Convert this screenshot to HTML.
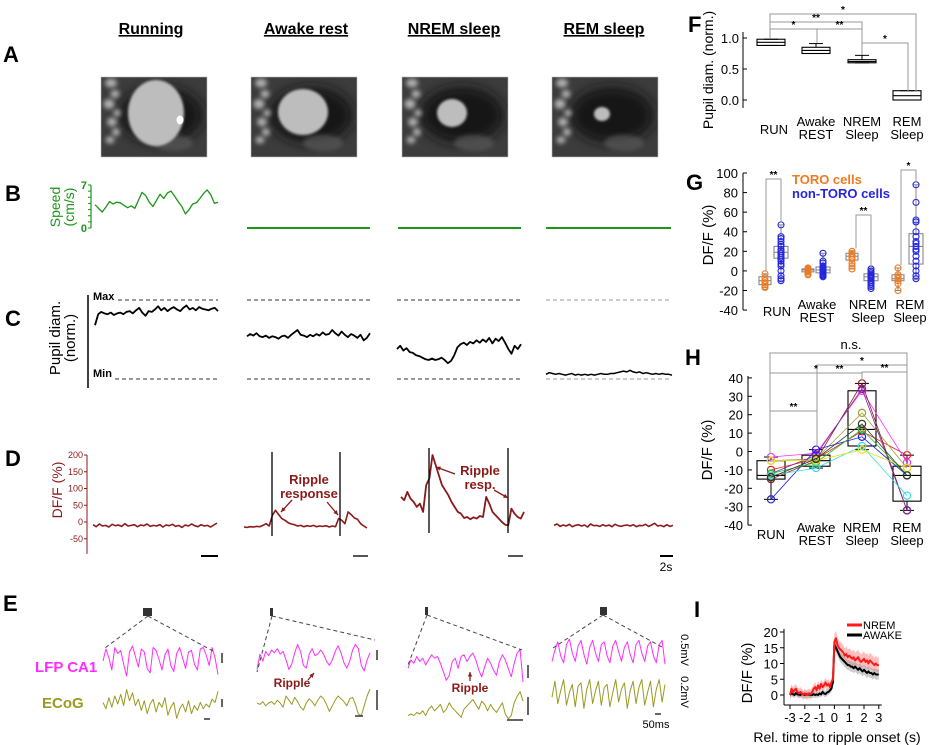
<!DOCTYPE html>
<html><head><meta charset="utf-8">
<style>
html,body{margin:0;padding:0;background:#fff;}
svg{display:block;font-family:"Liberation Sans",Arial,sans-serif;}
</style></head>
<body>
<svg id="fig" width="929" height="745" viewBox="0 0 929 745" xmlns="http://www.w3.org/2000/svg">
<defs>
  <filter id="blur2" x="-100%" y="-100%" width="300%" height="300%"><feGaussianBlur stdDeviation="2"/></filter>
  <filter id="blur1" x="-100%" y="-100%" width="300%" height="300%"><feGaussianBlur stdDeviation="1.2"/></filter>
  <filter id="blurS" x="-200%" y="-200%" width="500%" height="500%"><feGaussianBlur stdDeviation="2.5"/></filter>
  <filter id="blur4" x="-50%" y="-50%" width="200%" height="200%"><feGaussianBlur stdDeviation="6"/></filter>
  <clipPath id="c0"><rect x="101" y="77" width="106" height="80"/></clipPath>
  <clipPath id="c1"><rect x="251" y="77" width="106" height="80"/></clipPath>
  <clipPath id="c2"><rect x="402" y="77" width="106" height="80"/></clipPath>
  <clipPath id="c3"><rect x="552" y="77" width="106" height="80"/></clipPath>
</defs>
<g id="root"></g>
</svg>
<script>
// ---------------- DATA ----------------
const states = ["Running","Awake rest","NREM sleep","REM sleep"];
const speedRun = [3.8,3.2,2.6,3.4,4.3,3.9,4.2,4.1,3.7,3.3,3.6,3.2,4.5,5.8,5.3,4.2,3.5,4.5,5.5,4.8,5.7,6.0,5.2,4.3,3.5,2.3,3.0,3.9,4.1,4.8,5.6,6.2,5.4,4.0,4.2];
const speedRest = [0,0];
const pupilRun = [0.68,0.82,0.85,0.83,0.82,0.84,0.81,0.83,0.84,0.82,0.85,0.86,0.83,0.87,0.9,0.84,0.8,0.86,0.85,0.88,0.92,0.87,0.9,0.86,0.89,0.91,0.88,0.86,0.9,0.93,0.88,0.9,0.87,0.91,0.89,0.88,0.87,0.89,0.9,0.86];
const pupilAwake = [0.54,0.57,0.55,0.58,0.54,0.53,0.55,0.52,0.54,0.53,0.51,0.54,0.55,0.52,0.56,0.59,0.62,0.56,0.55,0.53,0.56,0.54,0.57,0.55,0.59,0.56,0.57,0.62,0.58,0.55,0.6,0.56,0.53,0.57,0.55,0.52,0.56,0.49,0.52,0.58];
const pupilNrem = [0.38,0.42,0.36,0.39,0.34,0.33,0.3,0.29,0.27,0.25,0.24,0.26,0.24,0.25,0.27,0.24,0.2,0.23,0.3,0.4,0.44,0.46,0.43,0.47,0.45,0.49,0.46,0.5,0.47,0.52,0.45,0.51,0.48,0.53,0.46,0.38,0.32,0.42,0.38,0.44];
const pupilRem = [0.06,0.08,0.07,0.06,0.07,0.06,0.05,0.06,0.07,0.05,0.06,0.05,0.06,0.05,0.06,0.05,0.06,0.07,0.06,0.06,0.07,0.07,0.08,0.09,0.1,0.09,0.11,0.09,0.08,0.09,0.07,0.08,0.07,0.06,0.07,0.06,0.07,0.06,0.06,0.05];
const dffRun = [-8,-14,-6,-12,-10,-15,-7,-11,-9,-13,-5,-12,-10,-8,-14,-9,-11,-6,-13,-10,-12,-8,-15,-9,-11,-7,-13,-10,-16,-9,-12,-6,-11,-14,-8,-12,-10,-15,-9,-3];
const dffAwake = [-15,-16,-14,-15,-13,-14,-10,-5,-12,20,35,22,10,5,-2,-6,-8,-12,-10,-14,-11,-13,-10,-14,-12,-13,-11,-15,-12,-14,10,5,-5,30,22,12,8,-5,-12,-18];
const dffNrem = [75,65,90,70,60,45,55,30,110,130,200,170,140,110,95,80,60,45,30,25,12,15,8,14,10,18,15,75,55,30,20,10,0,-8,-10,40,25,15,10,30];
const dffRem = [-10,-6,-13,-9,-12,-7,-14,-10,-8,-12,-9,-15,-6,-11,-10,-13,-8,-12,-9,-14,-7,-11,-13,-10,-9,-12,-8,-14,-10,-11,-7,-13,-9,-4,-12,-10,-14,-8,-13,-10];
const lfpRun = [0,0.8,0.2,-0.6,0.9,0.5,0.7,-0.2,-1,0.6,1,0.3,-0.4,0.8,0.6,-0.5,-0.8,0.9,0.7,0.1,-0.6,0.4,0.8,-0.3,-0.7,0.5,0.9,0.2,-0.5,0.6,0.7,-0.2,-0.6,0.8,0.9,0.4,-0.3,0.9,0.2,-0.9];
const ecogRun = [0.1,-0.3,0.4,-0.2,0.5,0,0.6,-0.1,0.9,0.2,0.7,-0.1,0.3,-0.4,0.2,-0.6,0,0.3,-0.5,0.1,-0.2,0.4,-0.7,-0.2,0.1,-0.9,-0.3,0,-0.5,0.2,-0.6,-0.1,-0.4,0.1,-0.3,0,-0.2,0.3,0.1,0.8];
const lfpAwake = [-0.9,0.2,-0.3,0.4,0.1,0.5,0.3,0.6,0.2,0.4,-0.2,-0.9,-0.5,0.3,0.9,0.4,-0.6,-0.8,0.2,0.6,0.1,0.2,0.5,0.2,-0.3,-0.6,-0.2,0.4,0.8,0.3,-0.4,-0.8,-0.3,0.5,0.9,0.6,-0.6,-1,-0.2,0.3];
const ecogAwake = [0,-0.1,0.1,-0.2,0,0.1,-0.1,0.2,0,-0.3,0.5,0.2,-0.1,0.4,0.1,-0.3,-0.5,0,0.3,0.1,-0.2,0.2,0.5,0.3,-0.1,-0.6,-0.2,0.2,0.5,0.3,0.1,-0.2,0.3,0.4,-0.1,-0.8,-0.9,-0.2,0.5,1];
const lfpNrem = [-0.2,0.3,0.1,0.5,0.2,0.4,0,0.3,0.6,0.4,0.5,0.1,-0.4,-0.9,-0.6,0.2,0.4,-0.2,0.5,0.6,0.2,0.5,0.7,0.3,-0.3,-0.7,-0.1,0.4,0.1,-0.3,-0.6,0.2,0.6,0.3,-0.2,-0.7,0.1,0.7,0.9,-1];
const ecogNrem = [-0.6,-0.5,-0.6,-0.4,-0.5,-0.3,-0.6,-0.2,0,-0.3,-0.1,0.1,-0.4,-0.2,0.2,-0.1,-0.3,-0.5,-0.7,-0.2,0,0.2,0.4,0.1,-0.2,0.3,0.1,-0.3,0.1,-0.2,-0.4,-0.1,0.2,-0.5,-0.8,-0.6,0.2,0.6,0.9,0.3];
const lfpRem = [-0.6,0.2,0.8,-0.2,-0.7,0.6,1,0,-0.6,0.5,0.9,-0.1,-0.8,0.4,0.9,0,-0.6,0.6,0.8,-0.2,-0.7,0.5,0.9,0.1,-0.6,0.4,0.8,-0.1,-0.7,0.6,0.9,0,-0.6,0.5,0.8,-0.2,-0.7,0.6,0.9,-0.8];
const ecogRem = [-0.2,0.8,-0.6,0.2,0.9,-0.7,0.1,0.6,-0.8,0.5,0.7,-0.9,0.3,0.9,-0.6,0.2,0.8,-0.7,0.4,0.6,-0.8,0.1,0.9,-0.5,0.3,0.7,-0.9,0.2,0.8,-0.6,0.4,0.9,-0.7,0.1,0.8,-0.8,0.3,0.9,-0.5,0.6];

const catLabels = [["RUN"],["Awake","REST"],["NREM","Sleep"],["REM","Sleep"]];
const fTicks = [0.0,0.5,1.0];
const fBoxes = [[0.88,0.93,0.98,0.88,0.98],[0.75,0.80,0.85,0.75,0.91],[0.60,0.62,0.65,0.60,0.72],[0.0,0.07,0.15,0.0,0.15]];
const gTicks = [-40,-20,0,20,40,60,80,100];
const gBoxesToro = [[-14,-10,-6,-17,-3],[-1,1,2,-4,3],[11,15,18,2,20],[-10,-8,-4,-20,3]];
const gBoxesNon = [[13,19,25,-10,47],[-2,1,4,-6,18],[-10,-6,-3,-18,2],[7,25,38,-9,88]];
const gDotsToro = [[-3,-7,-10,-12,-14,-16,-17],[3,2,1,0,-1,-3,-4],[20,18,16,14,12,8,5,2],[3,-4,-6,-8,-10,-13,-20]];
const gDotsNon = [[47,35,33,30,27,25,22,20,18,16,14,12,10,7,5,0,-5,-8,-10],[18,10,8,5,4,3,2,1,0,-1,-2,-3,-4,-5,-6],[2,0,-2,-4,-5,-6,-7,-8,-10,-12,-14,-16,-18],[88,70,52,50,40,35,30,28,25,22,20,15,10,5,0,-5,-8]];
const hTicks = [-40,-30,-20,-10,0,10,20,30,40];
const hBoxes = [[-15,-13,-5,-26,-3],[-8,-5,-2,-9,1],[3,12,33,1,37],[-27,-13,-8,-32,-2]];
const hCellColors = ["#e02020","#ff30ff","#a0a030","#8b1a1a","#7a2a9a","#2020e0","#20c020","#30e0e0","#e8e020","#303030"];
const hCellValues = [[-10,-4,11,-2],[-3,-1,33,-6],[-5,-4,21,-9],[-15,-5,37,-32],[-12,-2,34,-32],[-26,1,8,-13],[-12,-6,12,-13],[-13,-9,3,-24],[-5,-5,1,-9],[-14,-4,15,-13]];
const iTicksX = [-3,-2,-1,0,1,2,3];
const iTicksY = [0,5,10,15,20];
const iNrem = [0,2,1,1.5,2,1,0.5,1,0.5,0,0.5,0,0.3,0.5,0.2,1,2,2.5,1.5,3,2,3.5,2.5,3,4,3,3.5,2.5,4,5,17,18,16,15,14.5,14,13.5,12.5,13,12,12.5,12,11.5,12,11,11.5,12,11,10.5,11,11.5,10.5,11,10,11,10.5,10,9.5,10,9.5,9.5];
const iAwake = [0,0.5,0.3,0,0.6,0.2,0.1,0,0.4,0.2,0,0.3,0.1,0.2,0,0,0.3,0,0.2,0,0.5,0.2,1,0.5,0.3,0.8,1,1.5,2,4,16,15,14,13,12,11.5,11,10.5,10,9.5,9.5,9,9,8.5,9,8.5,8,8.5,8,7.5,8,7.5,7,7.5,7,7,6.5,7,6.5,6.5,6.5];

// ---------------- HELPERS ----------------
const NS="http://www.w3.org/2000/svg";
const root=document.getElementById('root');
function mk(tag,attrs,parent){const e=document.createElementNS(NS,tag);for(const k in attrs)e.setAttribute(k,attrs[k]);(parent||root).appendChild(e);return e;}
function txt(x,y,s,attrs,parent){const e=mk('text',Object.assign({x:x,y:y},attrs||{}),parent);e.textContent=s;return e;}
function grp(name,parent){const g=mk('g',{},parent);return g;}
function trace(vals,x0,x1,yf,stroke,w,parent,name){
  const n=vals.length;const pts=vals.map((v,i)=>(x0+(x1-x0)*i/(n-1)).toFixed(1)+","+yf(v).toFixed(1)).join(" ");
  const p=mk('polyline',{points:pts,fill:'none',stroke:stroke,'stroke-width':w,'stroke-linejoin':'round'},parent);
  
  
  return p;
}
function label(x,y,s,name){const t=txt(x,y,s,{'font-size':22,'font-weight':'bold'});return t;}

// ---------------- PANEL A ----------------
label(3,62,"A","panel-label-a");
const titleX=[151,306,454,604];
const imgX=[101,251,402,552];
const pupil=[[55,36,28,33],[52,35,25,23],[50,36,15,14],[50,37,8,7]];
const gA=grp('panel-a');
states.forEach((s,i)=>{
  const t=txt(titleX[i],34,s,{'font-size':16,'font-weight':'bold','text-anchor':'middle','text-decoration':'underline'},gA);
  
  
  const g=grp('eye-image-'+i,gA);
  const x=imgX[i],y=77,w=106,h=80;
  mk('rect',{x:x,y:y,width:w,height:h,fill:'#3c3c3c'},g);
  const cg=mk('g',{'clip-path':'url(#c'+i+')'},g);
  mk('ellipse',{cx:x+60,cy:y+38,rx:42,ry:28,fill:'#121212',filter:'url(#blur4)'},cg);
  const streaks=[[6,3,10,7],[10,14,7,6],[4,24,9,8],[12,33,6,5],[7,42,8,7],[11,52,6,6],[5,60,7,5]];
  streaks.forEach(sr=>mk('ellipse',{cx:x+sr[0]+4,cy:y+sr[1]+3,rx:sr[2]/2+1,ry:sr[3]/2+1,fill:'#d8d8d8',opacity:0.75,filter:'url(#blurS)'},cg));
  mk('ellipse',{cx:x+72,cy:y+66,rx:20,ry:8,fill:'#5a5a5a',opacity:0.7,filter:'url(#blur2)'},cg);
  mk('ellipse',{cx:x+pupil[i][0],cy:y+pupil[i][1],rx:pupil[i][2],ry:pupil[i][3],fill:'#bdbdbd',filter:'url(#blur1)'},cg);
  if(i===0) mk('ellipse',{cx:x+79,cy:y+43,rx:3.5,ry:4.5,fill:'#fff'},cg);
  mk('rect',{x:x,y:y,width:w,height:h,fill:'none',stroke:'#bbb','stroke-width':0.6},g);
});

// ---------------- PANEL B ----------------
label(5,201,"B","panel-label-b");
const green="#1a961a";
const gB=grp('panel-b');
const ySp=v=>228-v*43/7;
mk('line',{x1:91,y1:ySp(0),x2:91,y2:ySp(7),stroke:green,'stroke-width':1.2},gB);
for(let v=0;v<=7;v++) mk('line',{x1:88,y1:ySp(v),x2:91,y2:ySp(v),stroke:green,'stroke-width':1},gB);
txt(87,ySp(0)+4,"0",{'font-size':11,fill:green,'text-anchor':'end','font-weight':'bold'},gB);
txt(87,ySp(7)+4,"7",{'font-size':11,fill:green,'text-anchor':'end','font-weight':'bold'},gB);
const sl=txt(0,0,"Speed",{'font-size':14,fill:green,'text-anchor':'middle',transform:'translate(60,207) rotate(-90)'},gB);


txt(0,0,"(cm/s)",{'font-size':14,fill:green,'text-anchor':'middle',transform:'translate(74,207) rotate(-90)'},gB);
trace(speedRun,95,218,ySp,green,1.3,gB,'speed-trace-running');
[[247,370],[398,521],[546,671]].forEach((r,i)=>trace(speedRest,r[0],r[1],ySp,green,2,gB,'speed-trace-rest-'+i));

// ---------------- PANEL C ----------------
label(5,326,"C","panel-label-c");
const gC=grp('panel-c');
const yP=v=>379-v*79;
mk('line',{x1:88,y1:295,x2:88,y2:388,stroke:'#000','stroke-width':1.5},gC);
txt(93,300,"Max",{'font-size':11,'font-weight':'bold'},gC);
txt(93,377,"Min",{'font-size':11,'font-weight':'bold'},gC);
const cRanges=[[93,218],[247,370],[397,521],[546,672]];
cRanges.forEach((r,i)=>{
  const c=i===3?'#999':'#333';
  mk('line',{x1:i===0?118:r[0],y1:yP(1),x2:r[1],y2:yP(1),stroke:c,'stroke-width':1.1,'stroke-dasharray':'4,3'},gC);
  mk('line',{x1:i===0?115:r[0],y1:yP(0),x2:r[1],y2:yP(0),stroke:c,'stroke-width':1.1,'stroke-dasharray':'4,3'},gC);
});
txt(0,0,"Pupil diam.",{'font-size':15,'text-anchor':'middle',transform:'translate(60,338) rotate(-90)'},gC);
txt(0,0,"(norm.)",{'font-size':15,'text-anchor':'middle',transform:'translate(75,338) rotate(-90)'},gC);
trace(pupilRun,95,218,yP,'#000',1.8,gC,'pupil-trace-running');
trace(pupilAwake,247,370,yP,'#000',1.8,gC,'pupil-trace-awake');
trace(pupilNrem,397,521,yP,'#000',1.8,gC,'pupil-trace-nrem');
trace(pupilRem,546,672,yP,'#000',1.5,gC,'pupil-trace-rem');

// ---------------- PANEL D ----------------
label(5,466,"D","panel-label-d");
const dred="#8b1a1a";
const gD=grp('panel-d');
const yD=v=>522-v*0.335;
mk('line',{x1:87,y1:yD(200),x2:87,y2:yD(-95),stroke:dred,'stroke-width':1},gD);
[200,150,100,50,0,-50].forEach(v=>{
  mk('line',{x1:84,y1:yD(v),x2:87,y2:yD(v),stroke:dred,'stroke-width':1},gD);
  txt(83,yD(v)+3,String(v),{'font-size':9,fill:dred,'text-anchor':'end'},gD);
});
txt(0,0,"DF/F (%)",{'font-size':14,fill:dred,'text-anchor':'middle',transform:'translate(62,490) rotate(-90)'},gD);
trace(dffRun,93,217,yD,dred,1.6,gD,'dff-trace-running');
trace(dffAwake,244,367,yD,dred,1.6,gD,'dff-trace-awake');
trace(dffNrem,401,524,yD,dred,1.8,gD,'dff-trace-nrem');
trace(dffRem,554,673,yD,dred,1.6,gD,'dff-trace-rem');
[[272,452,536],[340,452,536],[429,448,533],[508,448,533]].forEach(l=>mk('line',{x1:l[0],y1:l[1],x2:l[0],y2:l[2],stroke:'#000','stroke-width':1.3},gD));
txt(309,484,"Ripple",{'font-size':13,'font-weight':'bold',fill:dred,'text-anchor':'middle'},gD);
txt(309,498,"response",{'font-size':13,'font-weight':'bold',fill:dred,'text-anchor':'middle'},gD);
txt(480,475,"Ripple",{'font-size':13,'font-weight':'bold',fill:dred,'text-anchor':'middle'},gD);
txt(480,489,"resp.",{'font-size':13,'font-weight':'bold',fill:dred,'text-anchor':'middle'},gD);
function arrow(x1,y1,x2,y2,c,p){mk('line',{x1:x1,y1:y1,x2:x2,y2:y2,stroke:c,'stroke-width':1.3},p);const a=Math.atan2(y2-y1,x2-x1);const L=5;
  mk('polygon',{points:`${x2},${y2} ${x2-L*Math.cos(a-0.45)},${y2-L*Math.sin(a-0.45)} ${x2-L*Math.cos(a+0.45)},${y2-L*Math.sin(a+0.45)}`,fill:c},p);}
arrow(292,500,281,512,dred,gD);
arrow(327,502,338,515,dred,gD);
arrow(455,474,436,467,dred,gD);
arrow(494,490,508,498,dred,gD);
[[201,218,'#000'],[353,368,'#555'],[508,523,'#555'],[660,673,'#000']].forEach((b,i)=>mk('line',{x1:b[0],y1:556,x2:b[1],y2:556,stroke:b[2],'stroke-width':2},gD));
txt(666,571,"2s",{'font-size':12,'text-anchor':'middle'},gD);

// ---------------- PANEL E ----------------
label(3,611,"E","panel-label-e");
const gE=grp('panel-e');
const magenta="#ff2cff", olive="#9a9a20";
const eCols=[
 {x0:103,x1:218,lfp:lfpRun,ecog:ecogRun,lc:661,ec:704,la:15,ea:16,m:[143,608,9,8],d:[[148,616,105,648],[148,616,213,651]]},
 {x0:257,x1:370,lfp:lfpAwake,ecog:ecogAwake,lc:657,ec:703,la:14,ea:14,m:[270,608,3,8],d:[[272,616,257,672],[272,616,375,640]]},
 {x0:408,x1:523,lfp:lfpNrem,ecog:ecogNrem,lc:665,ec:706,la:17,ea:16,m:[425,607,3,8],d:[[427,615,408,665],[427,615,522,650]]},
 {x0:552,x1:665,lfp:lfpRem,ecog:ecogRem,lc:653,ec:694,la:14,ea:16,m:[600,607,7,8],d:[[603,615,553,648],[603,615,662,647]]}
];
eCols.forEach((c,i)=>{
  trace(c.lfp,c.x0,c.x1,v=>c.lc-v*c.la,magenta,1,gE,'lfp-trace-'+i);
  trace(c.ecog,c.x0,c.x1,v=>c.ec-v*c.ea,olive,1,gE,'ecog-trace-'+i);
  mk('rect',{x:c.m[0],y:c.m[1],width:c.m[2],height:c.m[3],fill:'#333'},gE);
  c.d.forEach(d=>mk('line',{x1:d[0],y1:d[1],x2:d[2],y2:d[3],stroke:'#444','stroke-width':1,'stroke-dasharray':'4,3'},gE));
});
txt(35,672,"LFP CA1",{'font-size':15,'font-weight':'bold',fill:magenta},gE);
txt(42,708,"ECoG",{'font-size':15,'font-weight':'bold',fill:olive},gE);
[[222,653,663],[222,699,707],[377,650,660],[377,690,710],[528,665,678],[528,697,715]].forEach(b=>mk('line',{x1:b[0],y1:b[1],x2:b[0],y2:b[2],stroke:'#333','stroke-width':1.5},gE));
[[204,210,719],[355,363,716],[507,523,720],[655,661,714]].forEach(b=>mk('line',{x1:b[0],y1:b[2],x2:b[1],y2:b[2],stroke:'#333','stroke-width':1.5},gE));
txt(0,0,"0.5mV",{'font-size':11,'text-anchor':'middle',transform:'translate(681,650) rotate(90)'},gE);
txt(0,0,"0.2mV",{'font-size':11,'text-anchor':'middle',transform:'translate(681,692) rotate(90)'},gE);
txt(656,728,"50ms",{'font-size':11,'text-anchor':'middle'},gE);
txt(470,692,"Ripple",{'font-size':12,'font-weight':'bold',fill:dred,'text-anchor':'middle'},gE);
arrow(470,681,470,672,dred,gE);
txt(292,687,"Ripple",{'font-size':12,'font-weight':'bold',fill:dred,'text-anchor':'middle'},gE);
arrow(308,680,314,673,dred,gE);

// ---------------- PANEL F ----------------
const catX=[771,816,862,907];
label(688,32,"F","panel-label-f");
const gF=grp('panel-f');
const yF=v=>100-62*v;
mk('line',{x1:743,y1:32,x2:743,y2:108,stroke:'#000','stroke-width':1},gF);
fTicks.forEach(v=>{mk('line',{x1:743,y1:yF(v),x2:747,y2:yF(v),stroke:'#000'},gF);txt(739,yF(v)+5,v.toFixed(1),{'font-size':13,'text-anchor':'end'},gF);});
txt(0,0,"Pupil diam. (norm.)",{'font-size':14,'text-anchor':'middle',transform:'translate(713,70) rotate(-90)'},gF);
function box(cx,hw,b,yf,stroke,p,name){
  const g=grp(name,p);
  mk('line',{x1:cx,y1:yf(b[4]),x2:cx,y2:yf(b[2]),stroke:stroke},g);
  mk('line',{x1:cx,y1:yf(b[0]),x2:cx,y2:yf(b[3]),stroke:stroke},g);
  mk('line',{x1:cx-hw/2,y1:yf(b[4]),x2:cx+hw/2,y2:yf(b[4]),stroke:stroke},g);
  mk('line',{x1:cx-hw/2,y1:yf(b[3]),x2:cx+hw/2,y2:yf(b[3]),stroke:stroke},g);
  mk('rect',{x:cx-hw,y:yf(b[2]),width:2*hw,height:Math.max(1,yf(b[0])-yf(b[2])),fill:'none',stroke:stroke,'stroke-width':1.1},g);
  mk('line',{x1:cx-hw,y1:yf(b[1]),x2:cx+hw,y2:yf(b[1]),stroke:stroke,'stroke-width':1.1},g);
  return g;
}
fBoxes.forEach((b,i)=>box(catX[i],14,b,yF,'#000',gF,'f-box-'+i));
function catText(p,ys){catLabels.forEach((l,i)=>l.forEach((s,j)=>txt(catX[i]+(i===0?3:0),ys[l.length-1][j],s,{'font-size':13,'text-anchor':'middle'},p)));}
catText(gF,[[134],[126,139]]);
function bracket(x1,x2,y,yb1,yb2,star,p){
  mk('polyline',{points:`${x1},${yb1} ${x1},${y} ${x2},${y} ${x2},${yb2}`,fill:'none',stroke:'#999','stroke-width':1},p);
  txt((x1+x2)/2,y-1,star,{'font-size':10,'text-anchor':'middle','font-weight':'bold'},p);
}
bracket(770,916,14,38,92,"*",gF);
bracket(770,862,22,38,55,"**",gF);
bracket(770,817,29,38,43,"*",gF);
bracket(817,862,29,43,55,"**",gF);
bracket(862,908,43,55,92,"*",gF);

// ---------------- PANEL G ----------------
label(686,190,"G","panel-label-g");
const gG=grp('panel-g');
const yG=v=>173+(100-v)*0.979;
const gxT=[765,808,852,898], gxN=[781,823,871,916];
const orange="#f07a20", blue="#2525e0";
mk('line',{x1:743,y1:yG(100),x2:743,y2:yG(-40),stroke:'#000'},gG);
gTicks.forEach(v=>{mk('line',{x1:743,y1:yG(v),x2:747,y2:yG(v),stroke:'#000'},gG);txt(738,yG(v)+5,String(v),{'font-size':13,'text-anchor':'end'},gG);});
txt(0,0,"DF/F (%)",{'font-size':15,'text-anchor':'middle',transform:'translate(713,235) rotate(-90)'},gG);
gBoxesToro.forEach((b,i)=>box(gxT[i],6,b,yG,'#888',gG,'g-box-toro-'+i));
gBoxesNon.forEach((b,i)=>box(gxN[i],7,b,yG,'#888',gG,'g-box-nontoro-'+i));
gDotsToro.forEach((arr,i)=>arr.forEach(v=>{const c=mk('circle',{cx:gxT[i],cy:yG(v),r:3,fill:'none',stroke:orange,'stroke-width':1.1},gG);}));
gDotsNon.forEach((arr,i)=>arr.forEach(v=>{const c=mk('circle',{cx:gxN[i],cy:yG(v),r:3,fill:'none',stroke:blue,'stroke-width':1.1},gG);}));
txt(792,184,"TORO cells",{'font-size':13,'font-weight':'bold',fill:orange},gG);
txt(792,198,"non-TORO cells",{'font-size':13,'font-weight':'bold',fill:blue},gG);
bracket(766,781,179,yG(-3)-3,yG(47)-3,"**",gG);
bracket(856,871,215,yG(20)-3,yG(2)-3,"**",gG);
bracket(901,916,170,yG(3)-3,yG(88)-3,"*",gG);
catLabels.forEach((l,i)=>{const xs=[777,817,868,910];l.forEach((s,j)=>txt(xs[i],(l.length===1?316:309+j*13),s,{'font-size':13,'text-anchor':'middle'},gG));});

// ---------------- PANEL H ----------------
label(685,365,"H","panel-label-h");
const gH=grp('panel-h');
const yH=v=>451.5-v*1.84;
mk('line',{x1:748,y1:yH(41),x2:748,y2:yH(-40),stroke:'#000'},gH);
hTicks.forEach(v=>{mk('line',{x1:748,y1:yH(v),x2:752,y2:yH(v),stroke:'#000'},gH);txt(743,yH(v)+5,String(v),{'font-size':13,'text-anchor':'end'},gH);});
txt(0,0,"DF/F (%)",{'font-size':15,'text-anchor':'middle',transform:'translate(712,450) rotate(-90)'},gH);
hBoxes.forEach((b,i)=>box(catX[i],14,b,yH,'#000',gH,'h-box-'+i));
hCellValues.forEach((vals,c)=>{
  const g=grp('cell-line-'+c,gH);
  const pts=vals.map((v,i)=>catX[i]+","+yH(v).toFixed(1)).join(" ");
  mk('polyline',{points:pts,fill:'none',stroke:hCellColors[c],'stroke-width':0.8},g);
  vals.forEach((v,i)=>mk('circle',{cx:catX[i],cy:yH(v),r:3.6,fill:'none',stroke:hCellColors[c],'stroke-width':1.2},g));
});
bracket(770,907,353,yH(-3)-3,yH(-2)-3,"",gH);
txt(851,349,"n.s.",{'font-size':13,'text-anchor':'middle'},gH);
bracket(817,907,365,yH(1)-3,yH(-2)-3,"*",gH);
bracket(770,862,373,yH(-3)-3,yH(37)-3,"*",gH);
bracket(817,862,373,yH(1)-3,yH(37)-3,"**",gH);
bracket(862,907,372,yH(37)-3,yH(-2)-3,"**",gH);
bracket(770,817,411,yH(-3)-3,yH(1)-3,"**",gH);
catLabels.forEach((l,i)=>l.forEach((s,j)=>txt(catX[i],(l.length===1?539:532+j*13),s,{'font-size':13,'text-anchor':'middle'},gH)));

// ---------------- PANEL I ----------------
label(694,617,"I","panel-label-i");
const gI=grp('panel-i');
const xI=t=>790+(t+3)*14.8, yI=v=>695-v*3.15;
mk('line',{x1:784,y1:yI(21),x2:784,y2:705,stroke:'#000'},gI);
mk('line',{x1:784,y1:705,x2:xI(3)+3,y2:705,stroke:'#000'},gI);
iTicksY.forEach(v=>{mk('line',{x1:780,y1:yI(v),x2:784,y2:yI(v),stroke:'#000'},gI);txt(778,yI(v)+5,String(v),{'font-size':13,'text-anchor':'end'},gI);});
iTicksX.forEach(t=>{mk('line',{x1:xI(t),y1:705,x2:xI(t),y2:709,stroke:'#000'},gI);txt(xI(t),722,String(t),{'font-size':13,'text-anchor':'middle'},gI);});
txt(0,0,"DF/F (%)",{'font-size':15,'text-anchor':'middle',transform:'translate(752,673) rotate(-90)'},gI);
txt(837,742,"Rel. time to ripple onset (s)",{'font-size':14,'text-anchor':'middle'},gI);
function band(vals,w,fill,name){
  const n=vals.length;const up=vals.map((v,i)=>xI(-3+6*i/(n-1)).toFixed(1)+","+yI(v+w*(i>=30?1.6:1)).toFixed(1));
  const dn=vals.map((v,i)=>xI(-3+6*i/(n-1)).toFixed(1)+","+yI(v-w*(i>=30?1.6:1)).toFixed(1)).reverse();
  const p=mk('polygon',{points:up.concat(dn).join(" "),fill:fill,opacity:0.5},gI);
  
  
}
band(iNrem,1.5,'#ff8080','nrem-sem-band');
band(iAwake,1,'#999','awake-sem-band');
trace(iAwake,xI(-3),xI(3),yI,'#000',2,gI,'awake-mean-trace');
trace(iNrem,xI(-3),xI(3),yI,'#ff1a1a',2,gI,'nrem-mean-trace');
const lg=grp('i-legend',gI);
mk('line',{x1:847,y1:625,x2:862,y2:625,stroke:'#ff1a1a','stroke-width':3},lg);
txt(863,629,"NREM",{'font-size':11},lg);
mk('line',{x1:847,y1:635,x2:862,y2:635,stroke:'#000','stroke-width':3},lg);
txt(863,639,"AWAKE",{'font-size':11},lg);
</script>
</body></html>
